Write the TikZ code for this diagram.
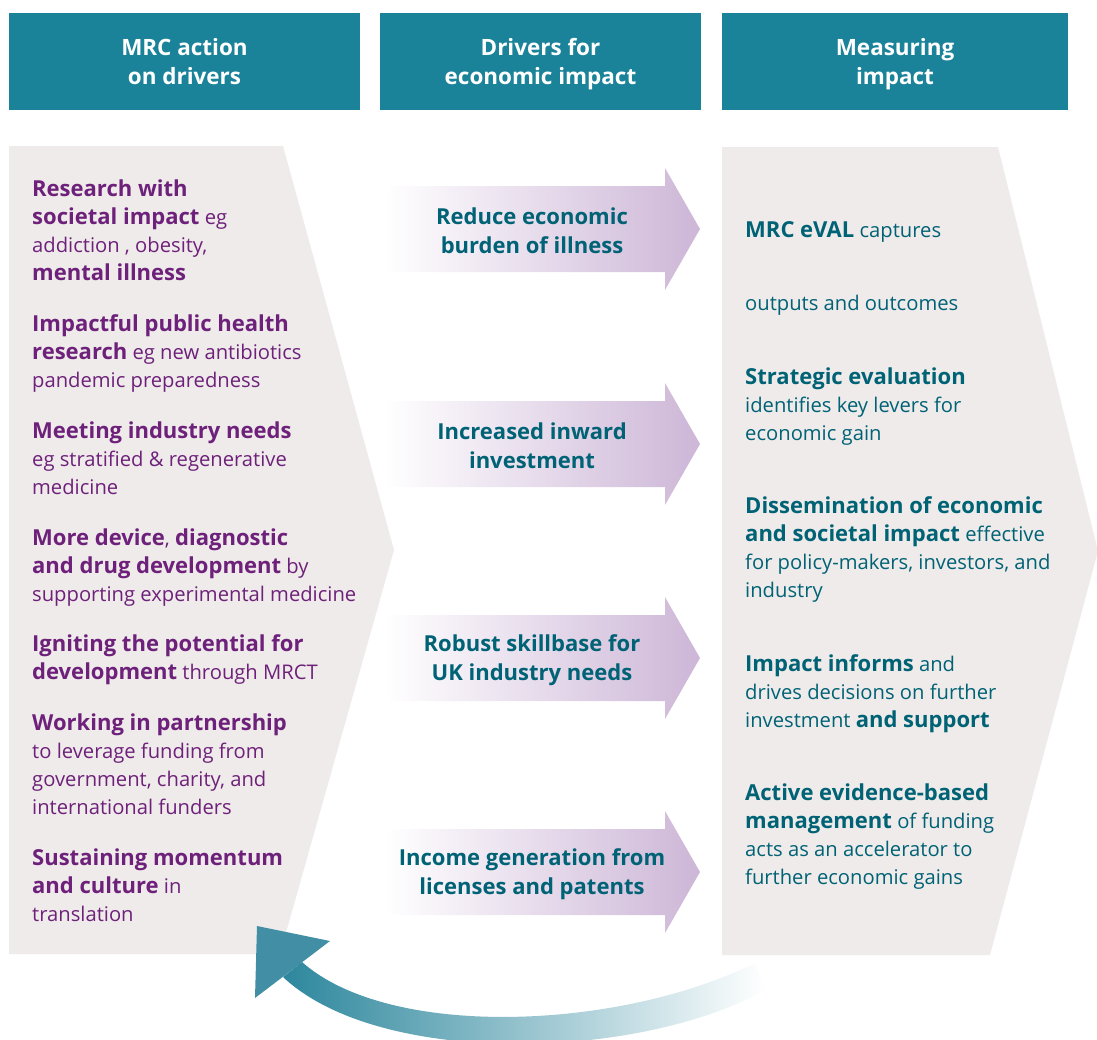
\documentclass[tikz,border=0pt]{standalone}
\usepackage{fontspec}
\setmainfont{Open Sans}[BoldFeatures={Scale=1.09}]
\usetikzlibrary{positioning}

\definecolor{headteal}{RGB}{26,131,153}
\definecolor{panelgrey}{RGB}{239,235,234}
\definecolor{actionpurple}{RGB}{110,33,122}
\definecolor{measureteal}{RGB}{0,98,117}
\definecolor{arrowlilac}{RGB}{205,182,215}
\definecolor{loopteal}{RGB}{45,135,157}
\definecolor{loophead}{RGB}{66,142,165}

% taller first line pushes the header text a little lower in its box
\newcommand{\headstrut}{\rule{0pt}{26pt}}

\tikzset{
    header/.style={fill=headteal, text=white, font=\fontsize{20.6}{29}\selectfont\bfseries,
        align=center, minimum height=97, inner sep=0},
    actiontext/.style={anchor=north west, inner sep=0, align=left, text=actionpurple,
        font=\fontsize{20.2}{28}\selectfont},
    measuretext/.style={actiontext, text=measureteal},
    drivertext/.style={inner sep=0, align=center, text=measureteal,
        font=\fontsize{20.2}{29}\selectfont\bfseries}
}

\begin{document}
\begin{tikzpicture}[x=1pt,y=-1pt]
    \useasboundingbox (0,0) rectangle (1097,1039);
    \clip (0,0) rectangle (1097,1039);

    % column headers
    \node[header, minimum width=351] (hdAction)  at (184.5,61.5) {\headstrut MRC action\\on drivers\strut};
    \node[header, minimum width=321] (hdDrivers) at (540.5,61.5) {\headstrut Drivers for\\economic impact\strut};
    \node[header, minimum width=346] (hdMeasure) at (895,61.5)   {\headstrut Measuring\\impact\strut};

    % grey chevron panels
    \fill[panelgrey] (9,146) -- (283,146) -- (394,550) -- (280,954) -- (9,954) -- cycle;
    \fill[panelgrey] (722,147) -- (998,147) -- (1098,551) -- (990,955) -- (722,955) -- cycle;

    % driver arrows, fading in from the left
    \foreach \cy/\name/\txt in {229/drvBurden/{Reduce economic\\burden of illness},
                                444/drvInvest/{Increased inward\\investment},
                                658/drvSkills/{Robust skillbase for\\UK industry needs},
                                872/drvIncome/{Income generation from\\licenses and patents}}{
        \shade[left color=white, right color=arrowlilac]
            (385,\cy-43) -- (665,\cy-43) -- (665,\cy-61) -- (700,\cy)
            -- (665,\cy+61) -- (665,\cy+43) -- (385,\cy+43) -- cycle;
        \node[drivertext] (\name) at (532,\cy+2) {\txt};
    }

    % MRC actions
    \node[actiontext] (actSocietal) at (32,177) {\strut\textbf{Research with}\\\textbf{societal impact} eg\\addiction , obesity,\\\textbf{mental illness}};
    \node[actiontext] (actHealth) at (32,312) {\strut\textbf{Impactful public health}\\\textbf{research} eg new antibiotics\\pandemic preparedness};
    \node[actiontext] (actIndustry) at (32,419) {\strut\textbf{Meeting industry needs}\\eg stratified \& regenerative\\medicine};
    \node[actiontext] (actDevice) at (32,526) {\strut\textbf{More device}, \textbf{diagnostic}\\\textbf{and drug development} by\\supporting experimental medicine};
    \node[actiontext] (actMRCT) at (32,632) {\strut\textbf{Igniting the potential for}\\\textbf{development} through MRCT};
    \node[actiontext] (actPartner) at (32,711) {\strut\textbf{Working in partnership}\\to leverage funding from\\government, charity, and\\international funders};
    \node[actiontext] (actCulture) at (32,846) {\strut\textbf{Sustaining momentum}\\\textbf{and culture} in\\translation};

    % measuring impact
    \node[measuretext] (msrEval) at (745,218) {\strut\textbf{MRC eVAL} captures};
    \node[measuretext] (msrOutputs) at (745,291) {\strut outputs and outcomes};
    \node[measuretext] (msrStrategic) at (745,365) {\strut\textbf{Strategic evaluation}\\identifies key levers for\\economic gain};
    \node[measuretext] (msrDissem) at (745,494) {\strut\textbf{Dissemination of economic}\\\textbf{and societal impact} effective\\for policy-makers, investors, and\\industry};
    \node[measuretext] (msrInforms) at (745,652) {\strut\textbf{Impact informs} and\\drives decisions on further\\investment \textbf{and support}};
    \node[measuretext] (msrActive) at (745,781) {\strut\textbf{Active evidence-based}\\\textbf{management} of funding\\acts as an accelerator to\\further economic gains};

    % feedback loop back to the actions
    \shade[left color=loopteal, right color=white]
        (302,962) .. controls (390,1040) and (620,1030) .. (755,963)
        -- (765,990) .. controls (640,1060) and (380,1068) .. (283,977) -- cycle;
    \fill[loophead] (257,926) -- (330,941) -- (255,998) -- cycle;
\end{tikzpicture}
\end{document}
